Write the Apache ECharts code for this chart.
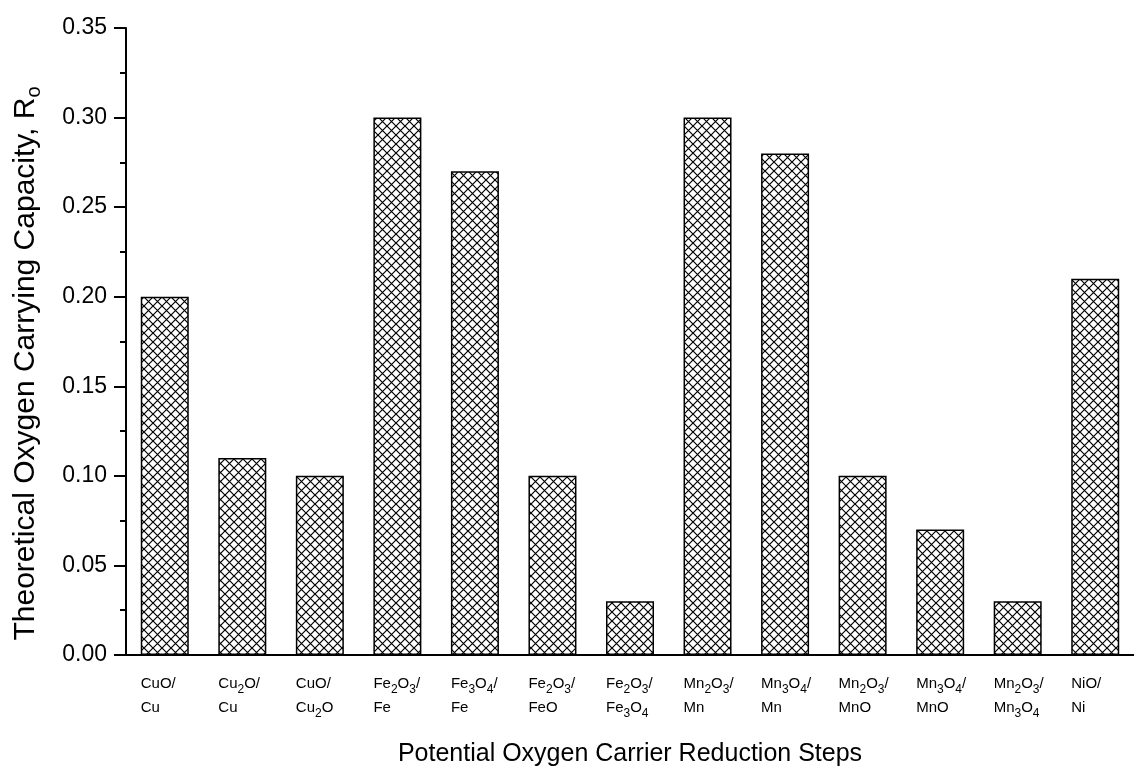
<!DOCTYPE html>
<html>
<head>
<meta charset="utf-8">
<script src="https://cdn.jsdelivr.net/npm/echarts@6/dist/echarts.min.js"></script>
<style>
  html, body { margin: 0; background: #fff; }
  #chart { width: 1134px; height: 778px; }
</style>
</head>
<body>
<div id="chart"></div>
<script>
// '_' marks a subscript digit
const categories = ['CuO/\nCu', 'Cu_2O/\nCu', 'CuO/\nCu_2O', 'Fe_2O_3/\nFe', 'Fe_3O_4/\nFe', 'Fe_2O_3/\nFeO',
    'Fe_2O_3/\nFe_3O_4', 'Mn_2O_3/\nMn', 'Mn_3O_4/\nMn', 'Mn_2O_3/\nMnO', 'Mn_3O_4/\nMnO', 'Mn_2O_3/\nMn_3O_4', 'NiO/\nNi'];
const capacity = [0.20, 0.11, 0.10, 0.30, 0.27, 0.10, 0.03, 0.30, 0.28, 0.10, 0.07, 0.03, 0.21];

const font = '"Liberation Sans", Arial, sans-serif';

function makeHatch() {
    const n = 9;
    const c = document.createElement('canvas');
    c.width = n;
    c.height = n;
    const ctx = c.getContext('2d');
    ctx.strokeStyle = '#000';
    ctx.lineWidth = 1.2;
    ctx.beginPath();
    ctx.moveTo(-1, -1); ctx.lineTo(n + 1, n + 1);
    ctx.moveTo(n + 1, -1); ctx.lineTo(-1, n + 1);
    ctx.stroke();
    return c;
}

const toRich = (s) => s.replace(/_(\d)/g, '{s|$1}');

const chart = echarts.init(document.getElementById('chart'));

chart.setOption({
    animation: false,
    backgroundColor: '#fff',
    grid: { left: 126, top: 28, width: 1021, height: 627 },
    xAxis: [
        {
            type: 'category',
            data: categories,
            axisLine: { lineStyle: { color: '#000', width: 2 } },
            axisTick: { alignWithLabel: true, length: 11, interval: 0, lineStyle: { color: '#000', width: 2 } },
            axisLabel: {
                interval: 0,
                color: '#000',
                fontFamily: font,
                fontSize: 15,
                lineHeight: 24,
                margin: 17,
                align: 'left',
                padding: [0, 0, 0, -24],
                formatter: toRich,
                rich: {
                    s: { fontSize: 12, lineHeight: 10, verticalAlign: 'bottom', fontFamily: font, color: '#000' }
                }
            },
            name: 'Potential Oxygen Carrier Reduction Steps',
            nameLocation: 'middle',
            nameGap: 87,
            nameTextStyle: { color: '#000', fontFamily: font, fontSize: 25 }
        },
        {
            type: 'category',
            data: categories,
            position: 'bottom',
            axisLine: { show: false },
            axisTick: { length: 5, interval: 0, lineStyle: { color: '#000', width: 2 } },
            axisLabel: { show: false }
        }
    ],
    yAxis: {
        type: 'value',
        min: 0,
        max: 0.35,
        interval: 0.05,
        axisLine: { show: true, lineStyle: { color: '#000', width: 2 } },
        axisTick: { show: true, length: 12, lineStyle: { color: '#000', width: 2 } },
        minorTick: { show: true, splitNumber: 2, length: 6, lineStyle: { color: '#000', width: 2 } },
        splitLine: { show: false },
        axisLabel: {
            color: '#000',
            fontFamily: font,
            fontSize: 23,
            margin: 19,
            formatter: (v) => v.toFixed(2)
        },
        name: 'Theoretical Oxygen Carrying Capacity, R{s|o}',
        nameLocation: 'middle',
        nameGap: 82,
        nameTextStyle: {
            color: '#000',
            fontFamily: font,
            fontSize: 30,
            lineHeight: 36,
            padding: [0, 44, 0, 0],
            rich: {
                s: { fontSize: 20, lineHeight: 20, verticalAlign: 'bottom', fontFamily: font, color: '#000' }
            }
        }
    },
    series: [
        {
            type: 'bar',
            data: capacity,
            barWidth: 48,
            itemStyle: {
                color: { image: makeHatch(), repeat: 'repeat' },
                borderColor: '#000',
                borderWidth: 1.5
            }
        }
    ]
});
</script>
</body>
</html>
